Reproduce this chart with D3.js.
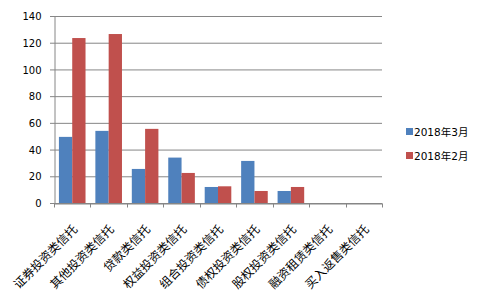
<!DOCTYPE html>
<html>
<head>
<meta charset="utf-8">
<script src="https://cdn.jsdelivr.net/npm/d3@7"></script>
<style>
  body { margin: 0; background: #fff; }
</style>
</head>
<body>
<script>
// 类别和两期数据
var categories = ["证券投资类信托","其他投资类信托","贷款类信托","权益投资类信托","组合投资类信托","债权投资类信托","股权投资类信托","融资租赁类信托","买入返售类信托"];
var seriesNames = ["2018年3月","2018年2月"];
var march = [49.5, 54, 25.5, 34, 12, 31.5, 9, 0, 0];
var february = [123.5, 126.5, 55.5, 22.5, 12.5, 9, 12, 0, 0];
var yTicks = [0, 20, 40, 60, 80, 100, 120, 140];
var colors = ["#4F81BD", "#C0504D"];

var width = 484, height = 292;
var margin = {left: 54, right: 102, top: 16, bottom: 89};

var svg = d3.select("body").append("svg").attr("width", width).attr("height", height);

var x = d3.scaleBand().domain(categories).range([margin.left, width - margin.right]);
var x1 = d3.scaleBand().domain(seriesNames).range([0, x.bandwidth()]).paddingInner(0).paddingOuter(0.37);
var y = d3.scaleLinear().domain([0, 140]).range([height - margin.bottom, margin.top]);

// 网格线
svg.append("g").selectAll("line").data(yTicks).enter().append("line")
  .attr("x1", margin.left - 4).attr("x2", width - margin.right)
  .attr("y1", function(d){ return y(d) + 0.5; }).attr("y2", function(d){ return y(d) + 0.5; })
  .attr("stroke", "#868686").attr("stroke-width", 1);

// y轴
var yAxis = d3.axisLeft(y).tickValues(yTicks).tickSize(0).tickPadding(13);
var gy = svg.append("g").attr("transform", "translate(" + (margin.left + 0.5) + ",0.5)").call(yAxis);
gy.select(".domain").attr("stroke", "#868686");
gy.selectAll("text").attr("font-family", "DejaVu Sans, sans-serif").attr("font-size", 10).attr("fill", "#000");

// 柱子
var data = [march, february];
categories.forEach(function(c, i){
  seriesNames.forEach(function(s, j){
    var v = data[j][i];
    svg.append("rect")
      .attr("x", x(c) + x1(s))
      .attr("width", x1.bandwidth())
      .attr("y", y(v))
      .attr("height", y(0) - y(v))
      .attr("fill", colors[j]);
  });
});

// x轴
var xAxis = d3.axisBottom(x).tickSize(0).tickFormat("");
var gx = svg.append("g").attr("transform", "translate(0," + (y(0) + 0.5) + ")").call(xAxis);
gx.select(".domain").attr("stroke", "#868686");
gx.selectAll(".tick").remove();
var bounds = categories.map(function(c){ return x(c); }).concat([x.range()[1]]);
gx.selectAll("line.sep").data(bounds).enter().append("line")
  .attr("x1", function(d){ return Math.round(d) + 0.5; }).attr("x2", function(d){ return Math.round(d) + 0.5; })
  .attr("y1", 0).attr("y2", 4).attr("stroke", "#868686");

svg.append("g").selectAll("text").data(categories).enter().append("text")
  .attr("transform", function(d){ return "translate(" + (x(d) + x.bandwidth() / 2 + 6) + "," + (y(0) + 27) + ") rotate(-45)"; })
  .attr("text-anchor", "end")
  .attr("font-family", "Noto Sans CJK SC, sans-serif")
  .attr("font-size", 12)
  .attr("fill", "#000")
  .text(function(d){ return d; });

// 图例
var legend = svg.append("g").selectAll("g").data(seriesNames).enter().append("g")
  .attr("transform", function(d, i){ return "translate(406," + (128 + i * 24) + ")"; });
legend.append("rect").attr("width", 7).attr("height", 7).attr("fill", function(d, i){ return colors[i]; });
legend.append("text").attr("x", 8).attr("y", 7.5)
  .attr("font-family", "DejaVu Sans, Noto Sans CJK SC, sans-serif").attr("font-size", 10.5)
  .attr("fill", "#000").text(function(d){ return d; });
</script>
</body>
</html>
